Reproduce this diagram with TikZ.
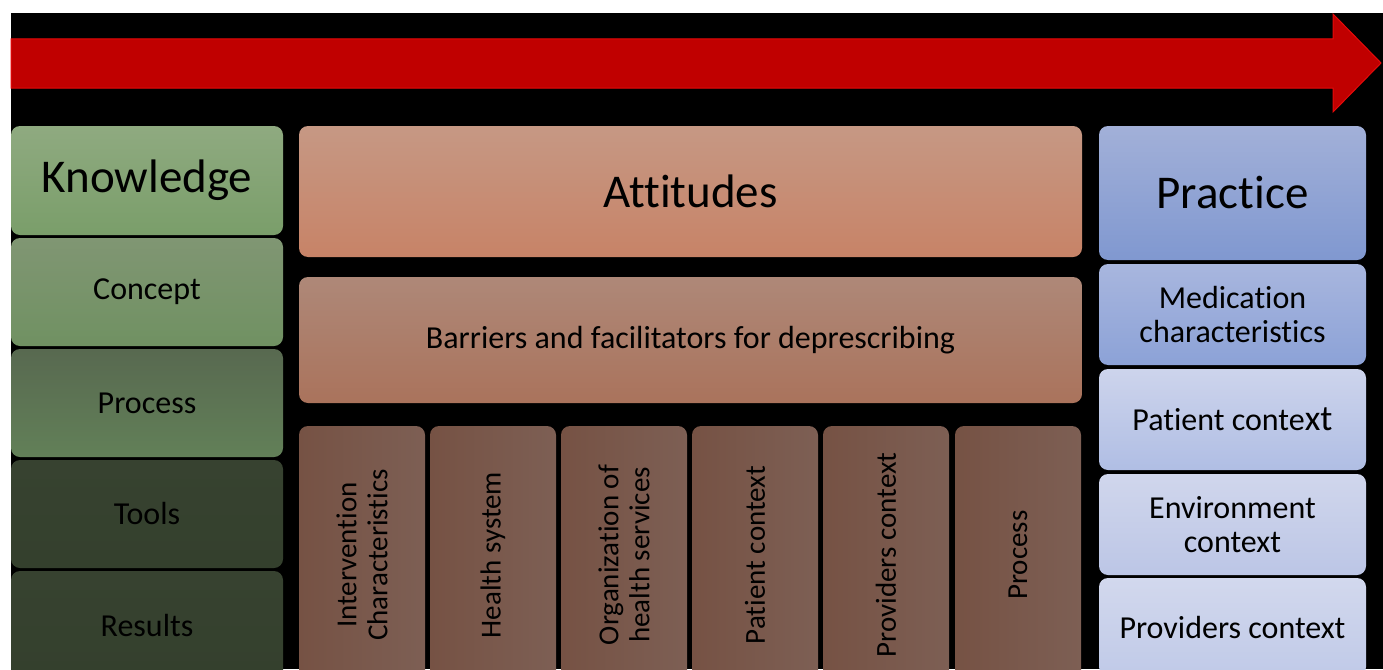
\documentclass[tikz,border=0pt]{standalone}
\usepackage{fontspec}
\setmainfont{Carlito}[Ligatures=NoCommon]
\usepackage{tikz}
\usetikzlibrary{positioning}

\definecolor{arrowfill}{RGB}{192,0,0}
\definecolor{arrowline}{RGB}{230,10,10}
\definecolor{knowtop}{RGB}{143,170,128}
\definecolor{knowbot}{RGB}{122,158,106}
\definecolor{concepttop}{RGB}{128,150,115}
\definecolor{conceptbot}{RGB}{112,145,98}
\definecolor{proctop}{RGB}{88,105,80}
\definecolor{procbot}{RGB}{98,128,88}
\definecolor{toolstop}{RGB}{55,66,48}
\definecolor{toolsbot}{RGB}{52,64,45}
\definecolor{atttop}{RGB}{198,152,132}
\definecolor{attbot}{RGB}{199,131,103}
\definecolor{bartop}{RGB}{174,136,120}
\definecolor{barbot}{RGB}{170,115,92}
\definecolor{coltop}{RGB}{125,95,84}
\definecolor{colbot}{RGB}{118,82,68}
\definecolor{practop}{RGB}{162,176,216}
\definecolor{pracbot}{RGB}{128,152,208}
\definecolor{medtop}{RGB}{168,182,222}
\definecolor{medbot}{RGB}{140,162,215}
\definecolor{pattop}{RGB}{205,212,236}
\definecolor{patbot}{RGB}{176,190,228}
\definecolor{envtop}{RGB}{208,214,236}
\definecolor{envbot}{RGB}{188,198,230}
\definecolor{provtop}{RGB}{210,216,237}
\definecolor{provbot}{RGB}{192,202,232}

\newcommand{\titlefont}{\fontsize{47}{50}\selectfont}
\newcommand{\itemfont}{\fontsize{32}{34}\selectfont}
\newcommand{\colfont}{\fontsize{29}{31}\selectfont}

\tikzset{panel/.style={rectangle, rounded corners=9pt, inner sep=2pt, align=center, text=black, font=\itemfont}}
\tikzset{knowbox/.style={panel, minimum width=272pt, minimum height=108pt}}
\tikzset{pracbox/.style={panel, minimum width=267pt, minimum height=101pt}}
\tikzset{colbox/.style={panel, font=\colfont, rotate=90, minimum width=258pt, minimum height=126pt, left color=colbot, right color=coltop}}

\begin{document}
\begin{tikzpicture}[x=1pt,y=-1pt]
    \fill[white] (0,0) rectangle (1383,669);
    \useasboundingbox (0,0) rectangle (1383,669);
    \clip (0,0) rectangle (1383,669);
    \fill[black] (11,13) rectangle (1383,669);

    % timeline arrow
    \draw[draw=arrowline, fill=arrowfill, line width=1pt] (11,39) -- (1333,39) -- (1333,14) -- (1381,63) -- (1333,112) -- (1333,88) -- (11,88) -- cycle;

    % knowledge column
    \node [knowbox, font=\titlefont, minimum height=109pt, top color=knowtop, bottom color=knowbot](knowledge) at (147,180.5){Knowledge};
    \node [knowbox, top color=concepttop, bottom color=conceptbot](concept) at (147,292){Concept};
    \node [knowbox, top color=proctop, bottom color=procbot](kprocess) at (147,403){Process};
    \node [knowbox, top color=toolstop, bottom color=toolsbot](tools) at (147,514){Tools};
    \node [knowbox, top color=toolstop, bottom color=toolsbot](results) at (147,625){Results};

    % attitudes column
    \node [panel, font=\titlefont, minimum width=783pt, minimum height=131pt, top color=atttop, bottom color=attbot](attitudes) at (690.5,191.5){Attitudes};
    \node [panel, minimum width=783pt, minimum height=126pt, top color=bartop, bottom color=barbot](barriers) at (690.5,340){Barriers and facilitators for deprescribing};
    \foreach \name/\cx/\txt in {interv/362/{Intervention\\Characteristics}, hsystem/493/{Health system}, organ/624/{Organization of\\health services}, patient/755/{Patient context}, provider/886/{Providers context}, aprocess/1018/{Process}}
        \node [colbox](\name) at (\cx,555){\txt};

    % practice column
    \node [pracbox, font=\titlefont, minimum height=134pt, top color=practop, bottom color=pracbot](practice) at (1232.5,193){Practice};
    \node [pracbox, top color=medtop, bottom color=medbot](medication) at (1232.5,314.5){Medication\\characteristics};
    \node [pracbox, top color=pattop, bottom color=patbot](ppatient) at (1232.5,419.5){Patient conte{\fontsize{36}{36}\selectfont xt}};
    \node [pracbox, top color=envtop, bottom color=envbot](environment) at (1232.5,524.5){Environment\\context};
    \node [pracbox, minimum height=98pt, top color=provtop, bottom color=provbot](pprovider) at (1232.5,627){Providers context};
\end{tikzpicture}
\end{document}
